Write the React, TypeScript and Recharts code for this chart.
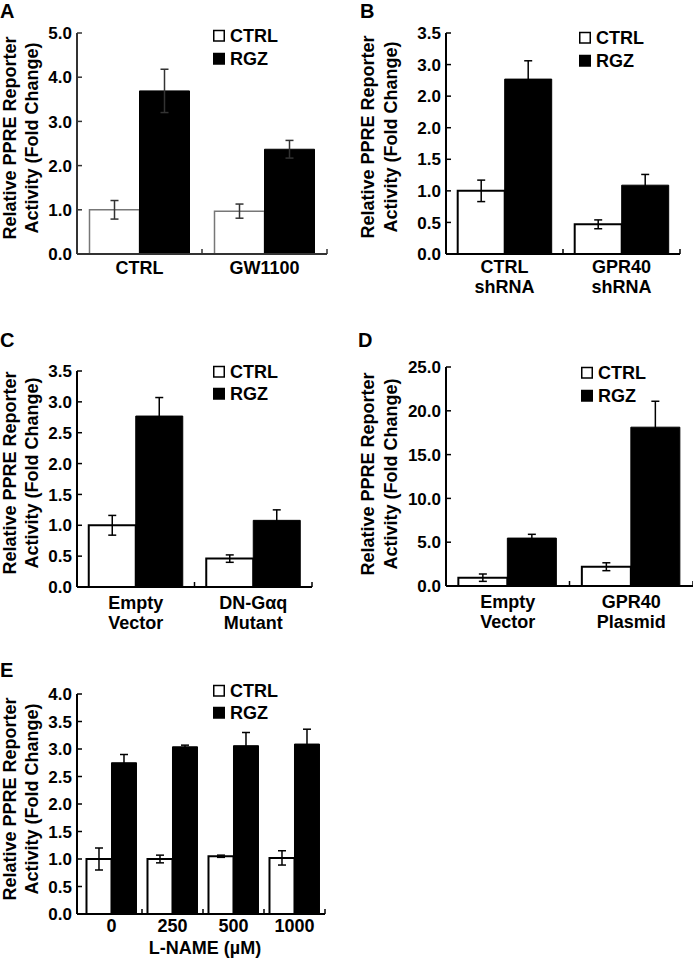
import React from 'react';
import { BarChart, Bar, XAxis, YAxis, ErrorBar } from 'recharts';

const FONT = '"Liberation Sans", Arial, Helvetica, sans-serif';

// ---------- Data ----------
// Panel A
const aCategories = ['CTRL', 'GW1100'];
const aCtrl = [1.0, 0.97];
const aCtrlErr = [0.21, 0.16];
const aRgz = [3.69, 2.37];
const aRgzErr = [0.49, 0.2];
const aTicks = [0, 1, 2, 3, 4, 5];
const aTickLabels = ['0.0', '1.0', '2.0', '3.0', '4.0', '5.0'];

// Panel B
const bCategories = ['CTRL\nshRNA', 'GPR40\nshRNA'];
const bCtrl = [1.0, 0.47];
const bCtrlErr = [0.17, 0.07];
const bRgz = [2.77, 1.09];
const bRgzErr = [0.29, 0.17];
const bTicks = [0, 0.5, 1, 1.5, 2, 2.5, 3, 3.5];
const bTickLabels = ['0.0', '0.5', '1.0', '1.5', '2.0', '2.0', '3.0', '3.5'];

// Panel C
const cCategories = ['Empty\nVector', 'DN-Gαq\nMutant'];
const cCtrl = [1.0, 0.46];
const cCtrlErr = [0.16, 0.06];
const cRgz = [2.77, 1.08];
const cRgzErr = [0.3, 0.17];
const cTicks = [0, 0.5, 1, 1.5, 2, 2.5, 3, 3.5];
const cTickLabels = ['0.0', '0.5', '1.0', '1.5', '2.0', '2.5', '3.0', '3.5'];

// Panel D
const dCategories = ['Empty\nVector', 'GPR40\nPlasmid'];
const dCtrl = [0.95, 2.2];
const dCtrlErr = [0.42, 0.45];
const dRgz = [5.47, 18.13];
const dRgzErr = [0.43, 2.96];
const dTicks = [0, 5, 10, 15, 20, 25];
const dTickLabels = ['0.0', '5.0', '10.0', '15.0', '20.0', '25.0'];

// Panel E
const eCategories = ['0', '250', '500', '1000'];
const eCtrl = [1.0, 1.0, 1.05, 1.02];
const eCtrlErr = [0.2, 0.07, 0.02, 0.13];
const eRgz = [2.75, 3.04, 3.06, 3.09];
const eRgzErr = [0.15, 0.03, 0.24, 0.27];
const eTicks = [0, 0.5, 1, 1.5, 2, 2.5, 3, 3.5, 4];
const eTickLabels = ['0.0', '0.5', '1.0', '1.5', '2.0', '2.5', '3.0', '3.5', '4.0'];

const seriesNames = ['CTRL', 'RGZ'];
const yTitle = ['Relative PPRE Reporter', 'Activity (Fold Change)'];

function build(cats: string[], ctrl: number[], ctrlErr: number[], rgz: number[], rgzErr: number[]) {
  return cats.map((name, i) => ({ name, ctrl: ctrl[i], ctrlErr: ctrlErr[i], rgz: rgz[i], rgzErr: rgzErr[i] }));
}

const YW = 50;
const XH = 40;

type PanelCfg = {
  letter: string;
  x0: number; y0: number; W: number; H: number;
  axisX: number; plotTop: number; plotBottom: number; plotRight: number;
  padLeft: number;
  data: any[];
  ticks: number[];
  tickLabels: string[];
  axisColor: string;
  ctrlStroke: string;
  ctrlStrokeWidth: number;
  errColor: string;
  lineDy: number[];
  gap: string;
  letterPos: [number, number];
  legendX: number;
  legendY: [number, number];
  titleX: [number, number];
  titleY: number;
};

function YTick(props: any) {
  const { x, y, payload, labels, ticks, color } = props;
  const idx = ticks.indexOf(payload.value);
  const label = idx >= 0 ? labels[idx] : '';
  return (
    <g>
      <text x={x} y={y} dy="0.36em" textAnchor="end" fontFamily={FONT} fontWeight="bold" fontSize={17} fill="#000">
        {label}
      </text>
      <line x1={x + 5} x2={x + 10} y1={y} y2={y} stroke={color} strokeWidth={1.5} />
    </g>
  );
}

function XTick(props: any) {
  const { x, y, payload, band, color, lineDy } = props;
  const lines = String(payload.value).split('\n');
  return (
    <g>
      <line x1={x + band / 2} x2={x + band / 2} y1={y} y2={y - 5} stroke={color} strokeWidth={1.5} />
      <text textAnchor="middle" fontFamily={FONT} fontWeight="bold" fontSize={18} fill="#000">
        {lines.map((l, i) => (
          <tspan key={i} x={x} y={y + lineDy[i]}>{l}</tspan>
        ))}
      </text>
    </g>
  );
}

function Panel({ cfg }: { cfg: PanelCfg }) {
  const margin = {
    left: cfg.axisX - cfg.x0 - YW,
    top: cfg.plotTop - cfg.y0,
    right: cfg.x0 + cfg.W - cfg.plotRight,
    bottom: cfg.y0 + cfg.H - cfg.plotBottom - XH,
  };
  const band = (cfg.plotRight - cfg.axisX - cfg.padLeft) / cfg.data.length;
  const max = cfg.ticks[cfg.ticks.length - 1];
  return (
    <div style={{ position: 'absolute', left: cfg.x0, top: cfg.y0, width: cfg.W, height: cfg.H }}>
      <BarChart width={cfg.W} height={cfg.H} data={cfg.data} margin={margin} barGap={0} barCategoryGap={cfg.gap}>
        <XAxis
          dataKey="name"
          type="category"
          height={XH}
          interval={0}
          tickLine={false}
          tickSize={0}
          tickMargin={0}
          padding={{ left: cfg.padLeft, right: 0 }}
          axisLine={{ stroke: cfg.axisColor, strokeWidth: 2 }}
          tick={(p: any) => <XTick {...p} band={band} color={cfg.axisColor} lineDy={cfg.lineDy} />}
        />
        <YAxis
          type="number"
          width={YW}
          domain={[0, max]}
          ticks={cfg.ticks}
          interval={0}
          tickLine={false}
          tickSize={0}
          tickMargin={5}
          axisLine={{ stroke: cfg.axisColor, strokeWidth: 2 }}
          tick={(p: any) => <YTick {...p} labels={cfg.tickLabels} ticks={cfg.ticks} color={cfg.axisColor} />}
        />
        <Bar dataKey="ctrl" fill="#fff" stroke={cfg.ctrlStroke} strokeWidth={cfg.ctrlStrokeWidth} isAnimationActive={false}>
          <ErrorBar dataKey="ctrlErr" width={4} stroke={cfg.errColor} strokeWidth={1.5} direction="y" />
        </Bar>
        <Bar dataKey="rgz" fill="#000" stroke="#000" strokeWidth={1} isAnimationActive={false}>
          <ErrorBar dataKey="rgzErr" width={4} stroke={cfg.errColor} strokeWidth={1.5} direction="y" />
        </Bar>
      </BarChart>
    </div>
  );
}

const panels: PanelCfg[] = [
  {
    letter: 'A', x0: 0, y0: 0, W: 340, H: 300,
    axisX: 77, plotTop: 33, plotBottom: 254, plotRight: 327, padLeft: 0,
    data: build(aCategories, aCtrl, aCtrlErr, aRgz, aRgzErr),
    ticks: aTicks, tickLabels: aTickLabels,
    axisColor: '#333', ctrlStroke: '#777', ctrlStrokeWidth: 1.5, errColor: '#333',
    lineDy: [20, 40], gap: '10%',
    letterPos: [0, 18], legendX: 213, legendY: [36, 59], titleX: [10, 32], titleY: 138,
  },
  {
    letter: 'B', x0: 340, y0: 0, W: 353, H: 310,
    axisX: 446, plotTop: 33, plotBottom: 254, plotRight: 680, padLeft: 0,
    data: build(bCategories, bCtrl, bCtrlErr, bRgz, bRgzErr),
    ticks: bTicks, tickLabels: bTickLabels,
    axisColor: '#000', ctrlStroke: '#000', ctrlStrokeWidth: 2, errColor: '#000',
    lineDy: [19, 39], gap: '10%',
    letterPos: [360, 18], legendX: 579, legendY: [38, 61], titleX: [368, 391], titleY: 137,
  },
  {
    letter: 'C', x0: 0, y0: 300, W: 340, H: 350,
    axisX: 77, plotTop: 371, plotBottom: 587, plotRight: 312, padLeft: 0,
    data: build(cCategories, cCtrl, cCtrlErr, cRgz, cRgzErr),
    ticks: cTicks, tickLabels: cTickLabels,
    axisColor: '#000', ctrlStroke: '#000', ctrlStrokeWidth: 2, errColor: '#000',
    lineDy: [22, 42], gap: '10%',
    letterPos: [0, 347], legendX: 213, legendY: [372, 394], titleX: [10, 32], titleY: 473,
  },
  {
    letter: 'D', x0: 340, y0: 300, W: 353, H: 350,
    axisX: 446, plotTop: 367, plotBottom: 586, plotRight: 693, padLeft: 0,
    data: build(dCategories, dCtrl, dCtrlErr, dRgz, dRgzErr),
    ticks: dTicks, tickLabels: dTickLabels,
    axisColor: '#000', ctrlStroke: '#000', ctrlStrokeWidth: 2, errColor: '#000',
    lineDy: [22, 42], gap: '10%',
    letterPos: [358, 347], legendX: 581, legendY: [373, 396], titleX: [368, 391], titleY: 474,
  },
  {
    letter: 'E', x0: 0, y0: 650, W: 340, H: 310,
    axisX: 77, plotTop: 694, plotBottom: 914, plotRight: 325, padLeft: 4,
    data: build(eCategories, eCtrl, eCtrlErr, eRgz, eRgzErr),
    ticks: eTicks, tickLabels: eTickLabels,
    axisColor: '#000', ctrlStroke: '#000', ctrlStrokeWidth: 2, errColor: '#000',
    lineDy: [18, 38], gap: '9%',
    letterPos: [0, 677], legendX: 213, legendY: [691, 713], titleX: [10, 32], titleY: 799,
  },
];

function Overlay() {
  return (
    <svg width={693} height={960} style={{ position: 'absolute', left: 0, top: 0, pointerEvents: 'none' }}>
      {panels.map((p) => (
        <g key={p.letter} fontFamily={FONT} fontWeight="bold" fill="#000">
          <text x={p.letterPos[0]} y={p.letterPos[1]} fontSize={20}>{p.letter}</text>
          {yTitle.map((t, i) => (
            <text
              key={i}
              transform={`translate(${p.titleX[i]}, ${p.titleY}) rotate(-90)`}
              textAnchor="middle"
              dy="0.36em"
              fontSize={18}
            >
              {t}
            </text>
          ))}
          {seriesNames.map((s, i) => (
            <g key={s}>
              <rect
                x={p.legendX + 0.75}
                y={p.legendY[i] - 5.5}
                width={10.5}
                height={10.5}
                fill={i === 0 ? '#fff' : '#000'}
                stroke="#000"
                strokeWidth={1.5}
              />
              <text x={p.legendX + 17} y={p.legendY[i]} dy="0.36em" fontSize={18}>{s}</text>
            </g>
          ))}
        </g>
      ))}
      <text x={205} y={954} textAnchor="middle" fontFamily={FONT} fontWeight="bold" fontSize={18} fill="#000">
        L-NAME (µM)
      </text>
    </svg>
  );
}

export default function App() {
  return (
    <div style={{ position: 'absolute', left: 0, top: 0, width: 693, height: 960, background: '#fff', overflow: 'hidden' }}>
      {panels.map((p) => (
        <Panel key={p.letter} cfg={p} />
      ))}
      <Overlay />
    </div>
  );
}
